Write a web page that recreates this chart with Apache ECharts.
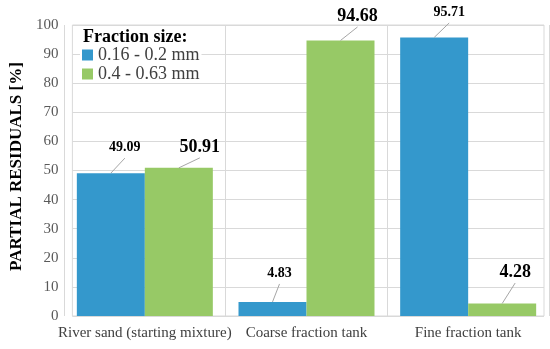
<!DOCTYPE html>
<html><head><meta charset="utf-8">
<script src="https://cdn.jsdelivr.net/npm/echarts@6/dist/echarts.min.js"></script>
<style>html,body{margin:0;padding:0;background:#fff}#c{width:550px;height:349px}</style>
</head><body><div id="c"></div>
<script>
const categories = ['River sand (starting mixture)', 'Coarse fraction tank', 'Fine fraction tank'];
const seriesNames = ['0.16 - 0.2 mm', '0.4 - 0.63 mm'];
const fineValues = [49.09, 4.83, 95.71];
const coarseValues = [50.91, 94.68, 4.28];
const yTicks = [0, 10, 20, 30, 40, 50, 60, 70, 80, 90, 100];
// label placement: [dx from bar centre, distance above bar top]
const labelOffsets = [
  [[14, 26], [7, 29], [15, 25.5]],
  [[21, 21], [17, 24.5], [13, 31.5]]
];
const colors = ['#3498CC', '#97C966'];
const serif = 'Liberation Serif';
const BAR_W = 68;

const chart = echarts.init(document.getElementById('c'), null, {renderer: 'canvas'});
function barSeries(idx, values) {
  return {
    name: seriesNames[idx], type: 'bar', xAxisIndex: 1, yAxisIndex: 1,
    data: values, barWidth: BAR_W, barGap: '0%',
    itemStyle: {color: colors[idx]}
  };
}
function labelSeries(idx, values, fontSize) {
  return {
    type: 'custom', xAxisIndex: 1, yAxisIndex: 1, silent: true, z: 5,
    data: values.map((v, i) => [i, v]),
    renderItem: function (params, api) {
      const i = api.value(0), v = api.value(1);
      const p = api.coord([i, v]);
      const bx = p[0] + (idx === 0 ? -BAR_W / 2 : BAR_W / 2);
      const by = p[1];
      const o = labelOffsets[idx][params.dataIndex];
      const lx = bx + o[0], ly = by - o[1];
      return {type: 'group', children: [
        {type: 'line', shape: {x1: lx, y1: ly + 11, x2: bx, y2: by},
          style: {stroke: '#a6a6a6', lineWidth: 1}},
        {type: 'text', x: lx, y: ly, style: {text: v.toFixed(2), fill: '#000',
          font: 'bold ' + fontSize + 'px ' + serif, textAlign: 'center', textVerticalAlign: 'middle'}}
      ]};
    }
  };
}
chart.setOption({
  animation: false,
  backgroundColor: '#fff',
  title: {text: 'Fraction size:', left: 78, top: 23,
    textStyle: {fontFamily: serif, fontWeight: 'bold', fontSize: 18, color: '#000'}},
  legend: {orient: 'vertical', left: 80, top: 46, padding: [0, 2, 0, 2], itemGap: 1,
    backgroundColor: '#fff', icon: 'rect', itemWidth: 11, itemHeight: 11,
    textStyle: {fontFamily: serif, fontSize: 18, color: '#404040'}, data: seriesNames},
  grid: [
    {left: 59, right: 6, top: 25, bottom: 33, show: true, borderColor: '#d9d9d9', borderWidth: 1},
    {left: 64, right: 1, top: 25, bottom: 33}
  ],
  xAxis: [
    {gridIndex: 0, type: 'category', data: categories, show: false},
    {gridIndex: 1, type: 'category', data: categories,
      axisLine: {show: false}, axisTick: {show: false},
      splitLine: {show: true, lineStyle: {color: '#d9d9d9'}},
      axisLabel: {fontFamily: serif, fontSize: 15, color: '#404040', margin: 10, interval: 0}}
  ],
  yAxis: [
    {gridIndex: 0, type: 'value', min: 0, max: 100, interval: 10,
      name: 'PARTIAL RESIDUALS [%]', nameLocation: 'middle', nameGap: 39,
      nameTextStyle: {fontFamily: serif, fontWeight: 'bold', fontSize: 17, color: '#000',
        padding: [0, 0, 0, 8]},
      axisLine: {show: false}, axisTick: {show: false},
      splitLine: {lineStyle: {color: '#d9d9d9'}},
      axisLabel: {fontFamily: serif, fontSize: 15, color: '#595959', margin: 14,
        formatter: v => yTicks.includes(v) ? String(v) : ''}},
    {gridIndex: 1, type: 'value', min: 0, max: 100, interval: 10, show: false}
  ],
  series: [barSeries(0, fineValues), barSeries(1, coarseValues),
    labelSeries(0, fineValues, 14), labelSeries(1, coarseValues, 18)]
});
</script></body></html>
